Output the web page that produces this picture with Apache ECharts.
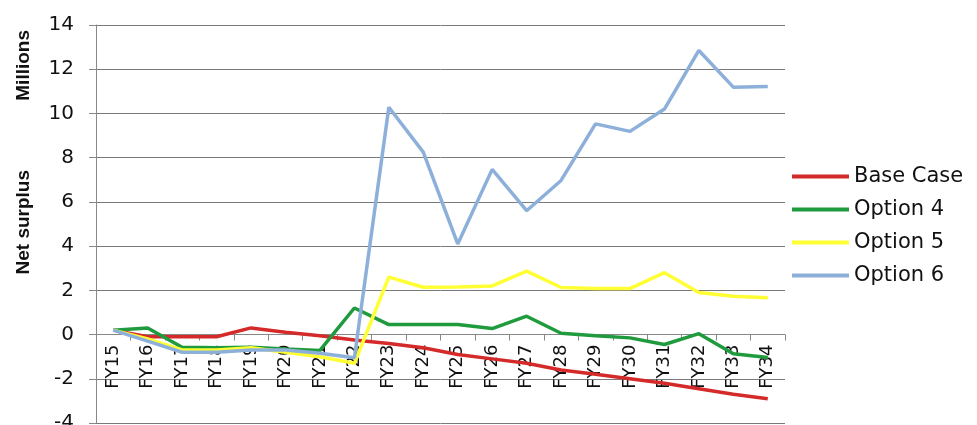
<!DOCTYPE html>
<html>
<head>
<meta charset="utf-8">
<script src="https://cdn.jsdelivr.net/npm/echarts@6/dist/echarts.min.js"></script>
<style>
  html, body { margin: 0; padding: 0; background: #fff; }
  #chart { width: 977px; height: 425px; }
</style>
</head>
<body>
<div id="chart"></div>
<script>
// Fiscal years on the category axis
const years = ['FY15','FY16','FY17','FY18','FY19','FY20','FY21','FY22','FY23','FY24',
               'FY25','FY26','FY27','FY28','FY29','FY30','FY31','FY32','FY33','FY34'];

// Net surplus per scenario, in millions
const baseCase = [0.2, -0.1, -0.1, -0.1, 0.3, 0.1, -0.05, -0.25, -0.4, -0.6,
                  -0.9, -1.1, -1.3, -1.6, -1.8, -2.0, -2.2, -2.45, -2.7, -2.9];
const option4  = [0.2, 0.3, -0.57, -0.6, -0.57, -0.65, -0.72, 1.2, 0.45, 0.45,
                  0.45, 0.27, 0.83, 0.06, -0.05, -0.15, -0.45, 0.04, -0.87, -1.04];
const option5  = [0.2, -0.2, -0.7, -0.7, -0.6, -0.8, -1.0, -1.3, 2.6, 2.14,
                  2.15, 2.2, 2.87, 2.13, 2.08, 2.08, 2.8, 1.9, 1.73, 1.66];
const option6  = [0.2, -0.3, -0.8, -0.8, -0.7, -0.7, -0.85, -1.05, 10.28, 8.25,
                  4.1, 7.47, 5.6, 6.97, 9.53, 9.19, 10.2, 12.85, 11.19, 11.22];

// Value axis range, in millions
const yMin = -4, yMax = 14, yStep = 2;

const seriesNames = ['Base Case', 'Option 4', 'Option 5', 'Option 6'];
const seriesColors = ['#d42a2a', '#1f9a3c', '#ffff33', '#8db0da'];

const chart = echarts.init(document.getElementById('chart'));
const font = '"DejaVu Sans", sans-serif';
const titleFont = '"Liberation Sans", Arial, sans-serif';

const gridTop = 25, gridBottom = 2;
const plotHeight = 425 - gridTop - gridBottom;
// the category axis crosses the value axis at zero
const zeroOffset = -plotHeight * (0 - yMin) / (yMax - yMin);

function line(name, data, color) {
  return {
    name, type: 'line', data,
    symbol: 'none',
    lineStyle: { color, width: 3.5 },
    itemStyle: { color },
    z: 3,
    animation: false
  };
}

chart.setOption({
  animation: false,
  grid: {
    left: 96, right: 192, top: gridTop, bottom: gridBottom,
    containLabel: false,
    outerBoundsMode: 'none'
  },
  legend: {
    orient: 'vertical',
    left: 792, top: 166,
    padding: 0,
    itemWidth: 57, itemHeight: 4,
    itemGap: 12,
    icon: 'rect',
    textStyle: { fontFamily: font, fontSize: 21, color: '#111' },
    data: seriesNames
  },
  xAxis: {
    type: 'category',
    data: years,
    boundaryGap: true,
    position: 'bottom',
    offset: zeroOffset,
    axisLine: { onZero: false, lineStyle: { color: '#888', width: 1 } },
    axisTick: { show: true, length: 6, lineStyle: { color: '#888' } },
    axisLabel: {
      rotate: 90, interval: 0, margin: 10,
      fontFamily: font, fontSize: 18, color: '#111'
    }
  },
  yAxis: {
    type: 'value',
    min: yMin, max: yMax, interval: yStep,
    axisLine: { show: true, lineStyle: { color: '#888' } },
    axisTick: { show: true, length: 7, lineStyle: { color: '#888' } },
    splitLine: { show: true, lineStyle: { color: '#7a7a7a', width: 1 } },
    axisLabel: { fontFamily: font, fontSize: 20, color: '#111', margin: 22 }
  },
  graphic: [
    {
      type: 'text', left: 14, top: 30, rotation: Math.PI / 2,
      style: { text: 'Millions', font: 'bold 19px ' + titleFont, fill: '#111' }
    },
    {
      type: 'text', left: 14, top: 170, rotation: Math.PI / 2,
      style: { text: 'Net surplus', font: 'bold 19px ' + titleFont, fill: '#111' }
    }
  ],
  series: [
    line(seriesNames[0], baseCase, seriesColors[0]),
    line(seriesNames[1], option4, seriesColors[1]),
    line(seriesNames[2], option5, seriesColors[2]),
    line(seriesNames[3], option6, seriesColors[3])
  ]
});
</script>
</body>
</html>
